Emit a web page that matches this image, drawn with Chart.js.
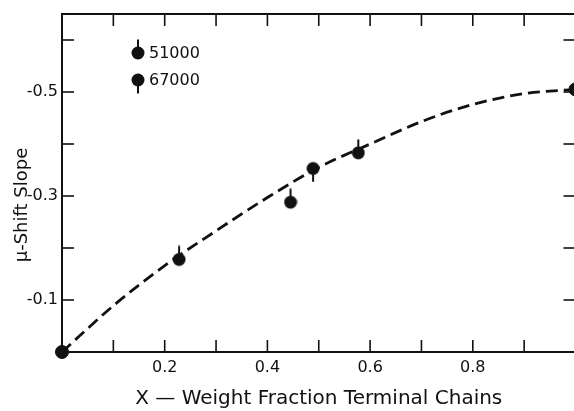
<!DOCTYPE html>
<html>
<head>
<meta charset="utf-8">
<style>
  html, body { margin: 0; padding: 0; background: #fff; overflow: hidden; }
  canvas { display: block; }
</style>
<script src="https://cdn.jsdelivr.net/npm/chart.js@4.4.1/dist/chart.umd.min.js"></script>
</head>
<body>
<canvas id="slopeChart" width="583" height="411"></canvas>
<script>
"use strict";

// dashed fit curve, read every 0.1 along x
const fitX = [0, 0.1, 0.2, 0.3, 0.4, 0.5, 0.6, 0.7, 0.8, 0.9, 1.0];
const fitY = [0, -0.089, -0.166, -0.233, -0.297, -0.355, -0.4, -0.443, -0.476, -0.497, -0.505];

// measured points, per molecular weight
const x51000 = [0.228, 0.445, 0.577];
const y51000 = [-0.178, -0.288, -0.383];
const x67000 = [0.489];
const y67000 = [-0.353];
// end points (pure linear / pure terminal)
const xEnds = [0, 1.0];
const yEnds = [0, -0.505];

const xLabels = ["0.2", "0.4", "0.6", "0.8"];
const yLabels = ["-0.1", "-0.3", "-0.5"];

const ink = "#111";
const font = "'DejaVu Sans', sans-serif";

const toPoints = (xs, ys) => xs.map((x, i) => ({ x: x, y: ys[i] }));

// filled dot with a short bar above (dir = -1) or below (dir = 1)
function marker(dir) {
  const c = document.createElement("canvas");
  c.width = 14;
  c.height = 28;
  const g = c.getContext("2d");
  g.fillStyle = ink;
  g.strokeStyle = ink;
  g.lineWidth = 2;
  g.beginPath();
  g.moveTo(7, 14);
  g.lineTo(7, dir < 0 ? 0.5 : 27.5);
  g.stroke();
  g.beginPath();
  g.arc(7, 14, 6.5, 0, Math.PI * 2);
  g.fill();
  return c;
}
const barUp = marker(-1);
const barDown = marker(1);

// box round the plot with inward tick marks on all four sides
const frame = {
  id: "frame",
  beforeDatasetsDraw(chart) {
    const { ctx, chartArea: a, scales: { x, y } } = chart;
    const len = 12;
    const seg = (x1, y1, x2, y2) => {
      ctx.beginPath();
      ctx.moveTo(x1, y1);
      ctx.lineTo(x2, y2);
      ctx.stroke();
    };
    ctx.save();
    ctx.strokeStyle = ink;
    ctx.lineWidth = 2;
    ctx.strokeRect(a.left, a.top, a.width, a.height);
    ctx.lineWidth = 1.6;
    x.ticks.forEach((t) => {
      if (t.value <= x.min + 1e-6 || t.value >= x.max - 1e-6) return;
      const px = x.getPixelForValue(t.value);
      seg(px, a.bottom, px, a.bottom - len);
      seg(px, a.top, px, a.top + len);
    });
    y.ticks.forEach((t) => {
      if (t.value <= y.min + 1e-6 || t.value >= y.max - 1e-6) return;
      const py = y.getPixelForValue(t.value);
      seg(a.left, py, a.left + len, py);
      seg(a.right, py, a.right - len, py);
    });

    // rotated y axis title
    ctx.fillStyle = ink;
    ctx.font = "18px " + font;
    ctx.textAlign = "center";
    ctx.textBaseline = "middle";
    ctx.translate(22, a.bottom - 147);
    ctx.rotate(-Math.PI / 2);
    ctx.fillText("\u03bc-Shift Slope", 0, 0);
    ctx.restore();
  },
  afterDraw(chart) {
    // legend inside the plot, upper left
    const { ctx, chartArea: a } = chart;
    ctx.save();
    ctx.fillStyle = ink;
    ctx.font = "16px " + font;
    ctx.textBaseline = "middle";
    let row = 0;
    chart.data.datasets.forEach((ds) => {
      if (!ds.inLegend) return;
      const yy = a.top + 39 + row * 27;
      ctx.drawImage(ds.pointStyle, a.left + 76 - 7, yy - 14);
      ctx.fillText(ds.label, a.left + 87, yy + 1);
      row++;
    });
    ctx.restore();
  },
};

const result = new Chart(document.getElementById("slopeChart"), {
  type: "scatter",
  data: {
    datasets: [
      {
        label: "fit",
        data: toPoints(fitX, fitY),
        showLine: true,
        borderColor: ink,
        borderWidth: 2.8,
        borderDash: [12, 6],
        cubicInterpolationMode: "monotone",
        pointRadius: 0,
      },
      {
        label: "51000",
        inLegend: true,
        data: toPoints(x51000, y51000),
        pointStyle: barUp,
        clip: false,
      },
      {
        label: "67000",
        inLegend: true,
        data: toPoints(x67000, y67000),
        pointStyle: barDown,
        clip: false,
      },
      {
        label: "ends",
        data: toPoints(xEnds, yEnds),
        pointStyle: "circle",
        pointRadius: 6.5,
        backgroundColor: ink,
        borderColor: ink,
        clip: false,
      },
    ],
  },
  options: {
    responsive: false,
    animation: false,
    layout: { padding: { top: 14, right: 1, left: 0, bottom: 0 } },
    plugins: {
      legend: { display: false },
      tooltip: { enabled: false },
    },
    scales: {
      x: {
        type: "linear",
        min: 0,
        max: 1,
        grid: { display: false, drawTicks: false },
        border: { display: false },
        ticks: {
          stepSize: 0.1,
          autoSkip: false,
          maxRotation: 0,
          padding: 6,
          color: ink,
          font: { family: font, size: 16 },
          callback: (v) => {
            const s = v.toFixed(1);
            return xLabels.includes(s) ? s : "";
          },
        },
        title: {
          display: true,
          text: "X \u2014 Weight Fraction Terminal Chains",
          color: ink,
          font: { family: font, size: 20 },
          padding: { top: 0, bottom: 0 },
        },
        afterFit: (s) => { s.height = 59; },
      },
      y: {
        type: "linear",
        min: -0.65,
        max: 0,
        reverse: true,
        grid: { display: false, drawTicks: false },
        border: { display: false },
        ticks: {
          stepSize: 0.1,
          autoSkip: false,
          padding: 4,
          color: ink,
          font: { family: font, size: 16 },
          callback: (v) => {
            const s = v.toFixed(1);
            return yLabels.includes(s) ? s : "";
          },
        },
        afterFit: (s) => { s.width = 62; },
      },
    },
  },
  plugins: [frame],
});
</script>
</body>
</html>
